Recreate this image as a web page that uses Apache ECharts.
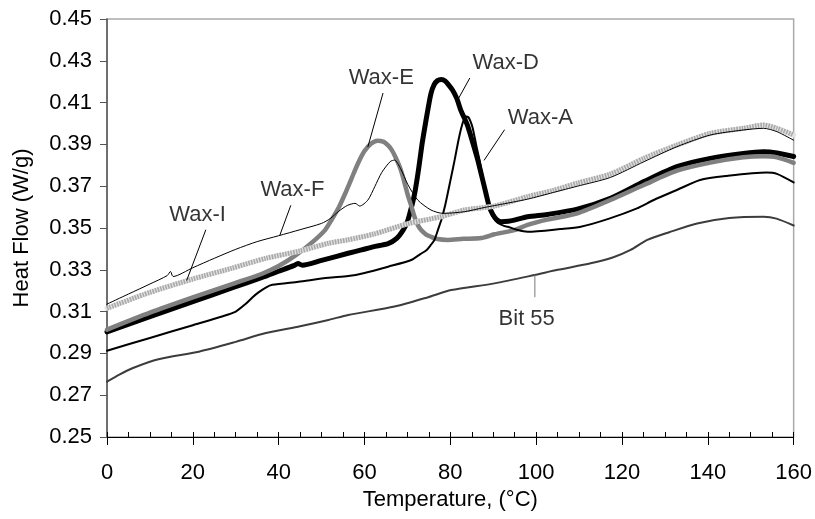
<!DOCTYPE html>
<html>
<head>
<meta charset="utf-8">
<script src="https://cdn.jsdelivr.net/npm/echarts@6/dist/echarts.min.js"></script>
<style>
    html, body { margin: 0; padding: 0; background: #fff; }
    #chart { width: 815px; height: 519px; }
</style>
</head>
<body>
<div id="chart"></div>
<script>
// [temperature, heat flow]
const waxF = [[0,0.3136],[5,0.3184],[10,0.3232],[14,0.3272],[14.8,0.3292],[15.4,0.3268],[20,0.3310],[25,0.3355],[30,0.3398],[35,0.3435],[40,0.3463],[45,0.3492],[50,0.3522],[52,0.3545],[54,0.3580],[56,0.3608],[57.8,0.3618],[58.9,0.3605],[60.8,0.3634],[62.4,0.3698],[64,0.3765],[66,0.3818],[67,0.3825],[68.4,0.3785],[70.1,0.3708],[72.4,0.3634],[75.5,0.3586],[78.3,0.3570],[83.3,0.3578],[87.9,0.3598],[91,0.3610],[98,0.3638],[104,0.3670],[109.6,0.3700],[117.3,0.3742],[125.1,0.3817],[132.8,0.3889],[140.6,0.3945],[148.3,0.3969],[153,0.3977],[156.1,0.3961],[160,0.3920]];
const waxI = [[0,0.3116],[10,0.3192],[20,0.3256],[29,0.3307],[37,0.3355],[45,0.3390],[51.6,0.3427],[56,0.3443],[62,0.3470],[70,0.3520],[78,0.3555],[83.3,0.3586],[90.3,0.3605],[98,0.3650],[104,0.3680],[109.6,0.3715],[117.3,0.3758],[125.1,0.3833],[132.8,0.3897],[140.6,0.3953],[148.3,0.3977],[153,0.3993],[156.1,0.3977],[160,0.3945]];
const waxE = [[0,0.3014],[10,0.3095],[20,0.3168],[30,0.3238],[36,0.3280],[40,0.3318],[44,0.3370],[48,0.3435],[50.8,0.3490],[52.5,0.3545],[54,0.3598],[55.5,0.3665],[57,0.3738],[58.5,0.3810],[60,0.3868],[61.5,0.3903],[63,0.3918],[64.5,0.3912],[65.5,0.3895],[66.3,0.3875],[67.2,0.3840],[68.2,0.3793],[68.8,0.3755],[69.4,0.3710],[70.2,0.3650],[70.9,0.3605],[71.7,0.3550],[72.4,0.3515],[73.2,0.3490],[74.3,0.3470],[75.5,0.3458],[77,0.3447],[79.4,0.3443],[83,0.3448],[87.2,0.3452],[90.3,0.3470],[94.9,0.3490],[98,0.3515],[102.6,0.3540],[109.6,0.3570],[117.3,0.3634],[125.1,0.3706],[132.8,0.3774],[140.6,0.3813],[148.3,0.3838],[153,0.3843],[156.1,0.3838],[160,0.3812]];
const waxD = [[0,0.3003],[10,0.3076],[20,0.3148],[29.1,0.3213],[36,0.3262],[40,0.3293],[43.5,0.3320],[44.5,0.3330],[45.5,0.3322],[50,0.3345],[56.2,0.3379],[59.3,0.3395],[62,0.3410],[65.5,0.3425],[67.5,0.3450],[69,0.3490],[70,0.3530],[70.5,0.3565],[71.2,0.3620],[71.7,0.3666],[72.3,0.3740],[72.8,0.3810],[73.4,0.3900],[74,0.3975],[74.8,0.4070],[75.5,0.4144],[76.2,0.4185],[77,0.4205],[77.9,0.4210],[78.8,0.4203],[79.6,0.4185],[80.5,0.4160],[81.5,0.4120],[82.5,0.4060],[83.3,0.4025],[84.1,0.3985],[85.2,0.3910],[86.4,0.3825],[87.3,0.3750],[88.3,0.3666],[89.1,0.3600],[89.9,0.3565],[90.8,0.3540],[91.8,0.3530],[93.5,0.3532],[94.9,0.3538],[98,0.3554],[102.6,0.3565],[109.6,0.3590],[117.3,0.3642],[125.1,0.3722],[132.8,0.3794],[140.6,0.3833],[148.3,0.3857],[153,0.3865],[156.1,0.3859],[160,0.3842]];
const waxA = [[0,0.2913],[10,0.2974],[20,0.3035],[27,0.3078],[30,0.3100],[32.2,0.3135],[34,0.3170],[35.3,0.3192],[37,0.3215],[38.5,0.3228],[44.6,0.3243],[51.6,0.3262],[56.2,0.3270],[60,0.3285],[65.5,0.3315],[70.9,0.3347],[73,0.3375],[74.5,0.3395],[75.5,0.3420],[76.3,0.3443],[77.1,0.3490],[77.9,0.3538],[78.7,0.3600],[79.4,0.3666],[80.2,0.3745],[81,0.3825],[81.8,0.3910],[82.5,0.3975],[83.1,0.4015],[83.7,0.4033],[84.2,0.4030],[84.7,0.4010],[85.2,0.3980],[86,0.3900],[86.8,0.3825],[87.5,0.3750],[88.3,0.3666],[89,0.3600],[89.5,0.3570],[90.2,0.3545],[91,0.3525],[92.5,0.3510],[93.4,0.3506],[95.7,0.3490],[98,0.3482],[105.7,0.3495],[110.4,0.3506],[117,0.3545],[123.5,0.3594],[127.4,0.3634],[132.8,0.3682],[138.2,0.3730],[144.4,0.3749],[153.7,0.3765],[156.1,0.3759],[160,0.3718]];
const bit55 = [[0,0.2765],[3,0.2800],[5.9,0.2829],[12,0.2872],[21.4,0.2908],[30,0.2955],[36.8,0.2996],[45,0.3030],[51.6,0.3060],[56.2,0.3084],[67,0.3124],[75,0.3170],[80.2,0.3203],[90.3,0.3235],[99.6,0.3275],[105,0.3300],[112.7,0.3331],[118,0.3360],[122,0.3395],[125.9,0.3443],[131,0.3480],[137.5,0.3522],[145,0.3548],[153,0.3554],[156,0.3545],[160,0.3512]];

const yTicks = [0.25, 0.27, 0.29, 0.31, 0.33, 0.35, 0.37, 0.39, 0.41, 0.43, 0.45];

// labels on the curves: name, text position, leader start, leader end
const annNames = ['Wax-I', 'Wax-F', 'Wax-E', 'Wax-D', 'Wax-A', 'Bit 55'];
const annText = [[21.1, 0.3562], [43.2, 0.3682], [63.9, 0.4218], [92.9, 0.4289], [101, 0.4026], [97.8, 0.3065]];
const annFrom = [[23, 0.349], [42.8, 0.3607], [64.3, 0.4144], [84.5, 0.4216], [92.6, 0.3969], [99.7, 0.3275]];
const annTo = [[18.6, 0.3251], [40.3, 0.3467], [60.8, 0.3889], [81.7, 0.4112], [87.9, 0.3825], [99.7, 0.3171]];

const font = 'Arial, "Liberation Sans", sans-serif';

let chart = echarts.init(document.getElementById('chart'));

// default line series
function lineSeries(name, data, color, width, type) {
    return {
        name: name,
        type: 'line',
        data: data,
        showSymbol: false,
        symbol: 'none',
        smooth: 0.25,
        silent: true,
        lineStyle: { color: color, width: width, type: type || 'solid', cap: 'round', join: 'round' }
    };
}

let series = [
    lineSeries('Bit 55', bit55, '#3c3c3c', 2),
    lineSeries('Wax-D', waxD, '#000', 5),
    lineSeries('Wax-E', waxE, '#808080', 4.5),
    lineSeries('Wax-A', waxA, '#000', 2),
    lineSeries('Wax-I bg', waxI, '#e2e2e2', 5),
    lineSeries('Wax-I', waxI, '#a8a8a8', 5, [1.5, 1.2]),
    lineSeries('Wax-F', waxF, '#000', 1)
];
series[5].lineStyle.cap = 'butt';

// leader lines
annNames.forEach((n, i) => {
    let s = lineSeries('lead ' + n, [annFrom[i], annTo[i]], n === 'Bit 55' ? '#777' : '#000', 1);
    s.smooth = false;
    series.push(s);
});

// label texts
series.push({
    type: 'scatter',
    silent: true,
    symbolSize: 1,
    itemStyle: { color: 'transparent' },
    label: {
        show: true,
        position: 'inside',
        formatter: p => p.name,
        color: '#000',
        fontSize: 22,
        fontFamily: font
    },
    data: annNames.map((n, i) => ({ name: n, value: annText[i] }))
});

let option = {
    animation: false,
    backgroundColor: '#fff',
    grid: {
        left: 107, right: 18, top: 19, bottom: 82,
        show: true,
        borderColor: '#aaa',
        borderWidth: 1.5
    },
    xAxis: [{
        type: 'value',
        min: 0, max: 160, interval: 20,
        name: 'Temperature, (°C)',
        nameLocation: 'middle',
        nameGap: 49,
        nameTextStyle: { color: '#000', fontSize: 22, fontFamily: font },
        axisLine: { show: true, lineStyle: { color: '#000', width: 1 } },
        axisTick: { show: true, inside: false, length: 8, lineStyle: { color: '#000' } },
        axisLabel: { color: '#000', fontSize: 22, fontFamily: font, margin: 25 },
        splitLine: { show: false }
    }, {
        // minor ticks every 5
        type: 'value',
        position: 'bottom',
        min: 0, max: 160, interval: 5,
        axisLine: { show: false },
        axisTick: { show: true, inside: true, length: 5, lineStyle: { color: '#000' } },
        axisLabel: { show: false },
        splitLine: { show: false }
    }],
    yAxis: {
        type: 'value',
        min: 0.25, max: 0.45,
        name: 'Heat Flow (W/g)',
        nameLocation: 'middle',
        nameGap: 74,
        nameTextStyle: { color: '#000', fontSize: 22, fontFamily: font },
        axisLine: { show: true, lineStyle: { color: '#555', width: 1.5 } },
        axisTick: { show: true, inside: false, length: 7, customValues: yTicks, lineStyle: { color: '#555' } },
        axisLabel: {
            color: '#000', fontSize: 22, fontFamily: font, margin: 15,
            customValues: yTicks,
            formatter: v => v.toFixed(2)
        },
        splitLine: { show: false }
    },
    series: series
};

chart.setOption(option);
</script>
</body>
</html>
